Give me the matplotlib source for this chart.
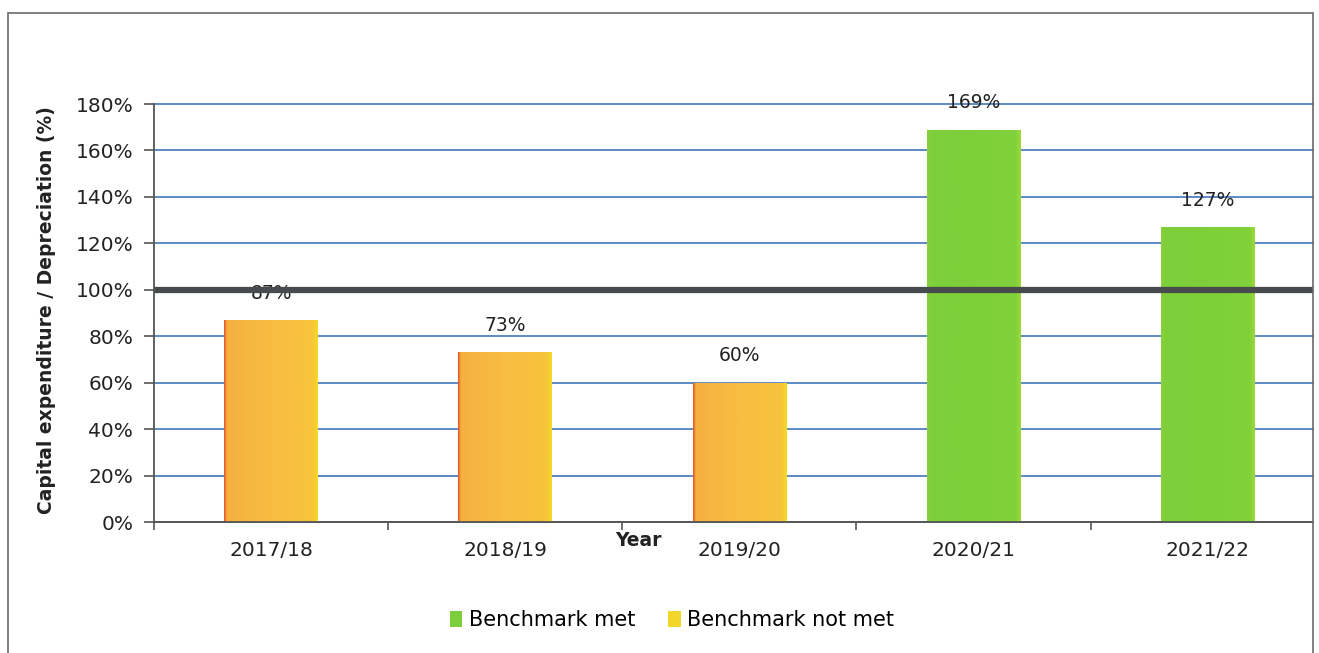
import numpy as np
import matplotlib
matplotlib.use("Agg")
import matplotlib.pyplot as plt
from matplotlib.colors import LinearSegmentedColormap
from matplotlib.patches import Patch, Rectangle

plt.rcParams['font.family'] = ['DejaVu Sans']

# --- data ---
years = ["2017/18", "2018/19", "2019/20", "2020/21", "2021/22"]
ratio_pct = [87, 73, 60, 169, 127]
benchmark_pct = 100
y_ticks = [0, 20, 40, 60, 80, 100, 120, 140, 160, 180]
legend_labels = ["Benchmark met", "Benchmark not met"]

W, H = 1319, 653
fig = plt.figure(figsize=(W / 100, H / 100), dpi=100)
fig.patch.set_facecolor("white")

ax = fig.add_axes([154 / W, (H - 522) / H, (1313 - 154) / W, (522 - 104) / H])

# outer chart frame
fig.add_artist(Rectangle((8 / W, -0.05), (1313 - 8) / W, (H - 13) / H + 0.05,
                         transform=fig.transFigure, fill=False,
                         edgecolor="#6a6a6a", linewidth=1.2))

# gridlines
ax.set_yticks(y_ticks)
ax.yaxis.grid(True, color="#4f81bd", linewidth=1.3)
ax.set_axisbelow(True)

orange_cmap = LinearSegmentedColormap.from_list(
    "notmet", [(0.0, "#e4522c"), (0.03, "#f5b03f"), (0.5, "#f8bd42"),
               (0.94, "#f8c33c"), (1.0, "#f2dc22")])
green_cmap = LinearSegmentedColormap.from_list(
    "met", [(0.0, "#88d03c"), (0.06, "#7ccf3a"), (0.94, "#80d13a"),
            (1.0, "#9cd93a")])

x = np.arange(len(years))
bar_w = 0.40
grad = np.linspace(0, 1, 256).reshape(1, -1)
for xi, v in zip(x, ratio_pct):
    met = v >= benchmark_pct
    bar = ax.bar(xi, v, width=bar_w, color="#7ccf3a" if met else "#f8bd42",
                 edgecolor="none", zorder=2)[0]
    im = ax.imshow(grad, cmap=green_cmap if met else orange_cmap, aspect="auto",
                   extent=(xi - bar_w / 2, xi + bar_w / 2, 0, v), zorder=2.1,
                   interpolation="bilinear")
    im.set_clip_path(bar)
    ax.text(xi, v + 7.5, f"{v}%", ha="center", va="bottom", fontsize=13.5,
            color="#222222", zorder=3)
# the last category runs slightly past the chart frame
ax.set_xlim(-0.5, len(years) - 0.55)
ax.set_ylim(0, 180)
for gl in ax.get_ygridlines():
    gl.set_clip_on(False)

# benchmark line at 100%
ax.axhline(benchmark_pct, color="#474b4e", linewidth=4.5, zorder=4)

# axes styling
for s in ["top", "right"]:
    ax.spines[s].set_visible(False)
for s in ["left", "bottom"]:
    ax.spines[s].set_color("#555555")
    ax.spines[s].set_linewidth(1.3)
    ax.spines[s].set_zorder(5)

ax.set_yticklabels([f"{t}%" for t in y_ticks], fontsize=14.5, color="#222222")
ax.tick_params(axis="y", length=7, width=1.2, color="#555555", pad=8)

ax.set_xticks(x)
ax.set_xticklabels(years, fontsize=14.5, color="#222222")
ax.set_xticks(np.arange(len(years)) - 0.5, minor=True)
ax.tick_params(axis="x", which="major", length=0, pad=14)
ax.tick_params(axis="x", which="minor", length=6, width=1.2, color="#555555")

fig.text(47 / W, (H - 310) / H, "Capital expenditure / Depreciation (%)",
         rotation=90, ha="center", va="center", fontsize=13.5,
         fontweight="bold", color="#222222")
fig.text(638 / W, (H - 541) / H, "Year", ha="center", va="center",
         fontsize=13.5, fontweight="bold", color="#222222")

handles = [Patch(facecolor="#7ccf3a", edgecolor="none"),
           Patch(facecolor="#f2d62a", edgecolor="none")]
fig.legend(handles, legend_labels, loc="center", ncol=2,
           bbox_to_anchor=(672 / W, (H - 620) / H), frameon=False,
           fontsize=15, handlelength=0.6, handleheight=0.8,
           handletextpad=0.3, columnspacing=1.6)

fig.savefig("out.png", dpi=100, facecolor="white")
